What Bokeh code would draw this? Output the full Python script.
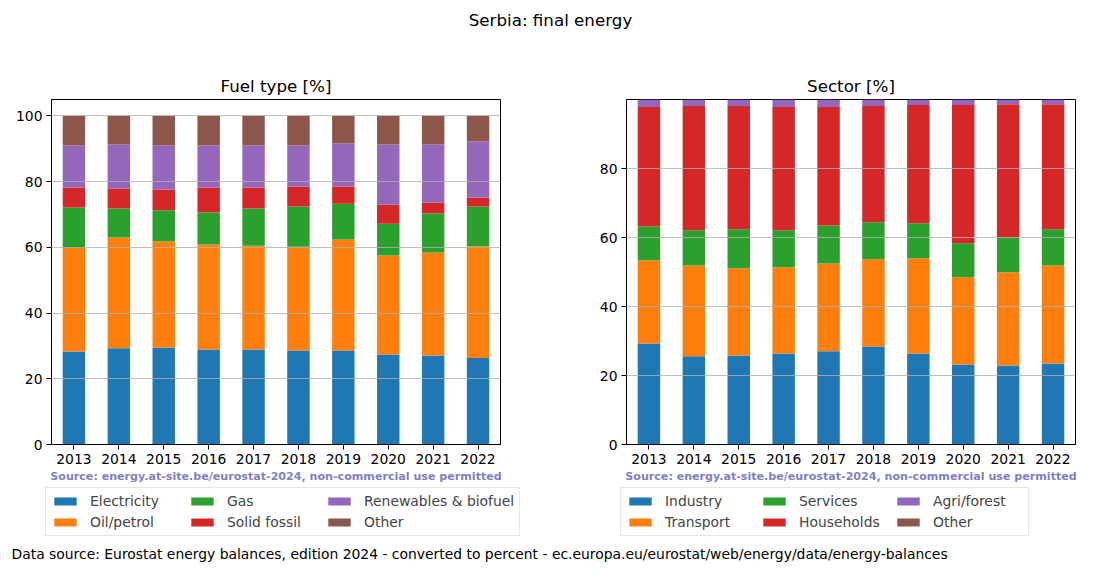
from bokeh.plotting import figure
from bokeh.models import ColumnDataSource, Range1d, FactorRange, FixedTicker, Title, Label
from bokeh.layouts import column, row
from bokeh.embed import file_html
from bokeh.resources import INLINE

years = ["2013", "2014", "2015", "2016", "2017", "2018", "2019", "2020", "2021", "2022"]

fuel_labels = ["Electricity", "Oil/petrol", "Gas", "Solid fossil", "Renewables & biofuel", "Other"]
electricity = [28.3, 29.3, 29.5, 28.9, 28.9, 28.6, 28.6, 27.4, 27.1, 26.3]
oil_petrol = [31.6, 33.7, 32.3, 32.0, 31.6, 31.6, 33.8, 30.1, 31.3, 34.0]
gas = [12.2, 8.8, 9.5, 9.7, 11.3, 12.2, 10.9, 9.7, 11.9, 12.1]
solid_fossil = [6.1, 6.1, 6.3, 7.6, 6.4, 6.1, 5.2, 5.8, 3.3, 2.8]
renewables = [12.8, 13.4, 13.4, 12.8, 12.8, 12.5, 13.1, 18.3, 17.7, 17.0]
fuel_other = [9.0, 8.7, 9.0, 9.0, 9.0, 9.0, 8.4, 8.7, 8.7, 7.8]

sector_labels = ["Industry", "Transport", "Services", "Households", "Agri/forest", "Other"]
industry = [29.3, 25.6, 25.8, 26.4, 27.0, 28.4, 26.4, 23.2, 22.9, 23.5]
transport = [24.1, 26.3, 25.3, 25.0, 25.5, 25.3, 27.6, 25.3, 27.0, 28.4]
services = [9.8, 10.2, 11.3, 10.7, 11.0, 10.7, 10.1, 9.8, 10.2, 10.5]
households = [34.6, 36.0, 35.7, 35.7, 34.3, 33.7, 34.3, 40.1, 38.5, 36.2]
agri_forest = [2.2, 1.9, 1.9, 2.2, 2.2, 1.9, 1.6, 1.6, 1.4, 1.4]
sector_other = [0.0, 0.0, 0.0, 0.0, 0.0, 0.0, 0.0, 0.0, 0.0, 0.0]

fuel_ticks = [0, 20, 40, 60, 80, 100]
sector_ticks = [0, 20, 40, 60, 80]

colors = ["#1f77b4", "#ff7f0e", "#2ca02c", "#d62728", "#9467bd", "#8c564b"]
FONT = "DejaVu Sans"
source_text = "Source: energy.at-site.be/eurostat-2024, non-commercial use permitted"


def make_source(series):
    keys = ["s%d" % i for i in range(len(series))]
    data = {"year": years}
    for k, s in zip(keys, series):
        data[k] = s
    return keys, ColumnDataSource(data)


def make_chart(title, keys, src, y_end, ticks, width, bl, br):
    p = figure(x_range=FactorRange(*years, range_padding=0), y_range=Range1d(0, y_end),
               width=width, height=447, output_backend="svg", toolbar_location=None,
               min_border_left=bl, min_border_right=br, min_border_top=59, min_border_bottom=43)
    p.vbar_stack(keys, x="year", width=0.5, color=colors, line_color=None, source=src)
    p.title.text = title
    p.title.align = "center"
    p.title.text_font = FONT
    p.title.text_font_size = "16.7px"
    p.title.text_font_style = "normal"
    p.title.text_color = "black"
    p.title.standoff = 8
    p.outline_line_color = "black"
    p.outline_line_width = 1
    p.xgrid.grid_line_color = None
    p.ygrid.grid_line_color = "#b0b0b0"
    p.ygrid.grid_line_width = 0.8
    p.ygrid.level = "overlay"
    p.yaxis.ticker = FixedTicker(ticks=ticks)
    for ax in [p.xaxis[0], p.yaxis[0]]:
        ax.axis_line_color = "black"
        ax.major_tick_line_color = "black"
        ax.major_tick_out = 5
        ax.major_tick_in = 0
        ax.minor_tick_line_color = None
        ax.major_label_text_font = FONT
        ax.major_label_text_font_size = "13.9px"
        ax.major_label_text_color = "black"
        ax.major_label_standoff = 4
    st = Title(text=source_text, align="center", text_font=FONT, text_font_size="11.1px",
               text_font_style="bold", text_color="#7f7fc7", standoff=2)
    p.add_layout(st, "below")
    return p


def make_legend(labels, keys, src, width, lx, label_w):
    # legend strip: same stacked bars, but the visible y-window lies above all data,
    # so only the legend shows
    f = figure(x_range=FactorRange(*years, range_padding=0), y_range=Range1d(200, 253),
               width=width, height=53, output_backend="svg", toolbar_location=None,
               min_border=0, x_axis_location=None, y_axis_location=None,
               outline_line_color=None)
    f.grid.grid_line_color = None
    f.vbar_stack(keys, x="year", width=0.5, color=colors, line_color=None, source=src,
                 legend_label=labels)
    lg = f.legend[0]
    lg.location = (lx, 4)
    lg.orientation = "vertical"
    lg.nrows = 2
    lg.label_text_font = FONT
    lg.label_text_font_size = "13.9px"
    lg.glyph_width = 28
    lg.glyph_height = 10
    lg.label_standoff = 11
    lg.label_height = 14
    lg.label_width = label_w
    lg.padding = 5
    lg.spacing = 5
    lg.margin = 0
    lg.border_line_color = "#cccccc"
    lg.background_fill_alpha = 0.8
    return f


fuel_keys, fuel_src = make_source([electricity, oil_petrol, gas, solid_fossil, renewables, fuel_other])
sector_keys, sector_src = make_source([industry, transport, services, households, agri_forest, sector_other])

p1 = make_chart("Fuel type [%]", fuel_keys, fuel_src, 105, fuel_ticks, 578, 51, 78)
p2 = make_chart("Sector [%]", sector_keys, sector_src, 100, sector_ticks, 514, 48, 17)
l1 = make_legend(fuel_labels, fuel_keys, fuel_src, 578, 45, 93)
l2 = make_legend(sector_labels, sector_keys, sector_src, 514, 42, 90)


def text_strip(h, txt, x, y, align, size):
    f = figure(x_range=Range1d(0, 1092), y_range=Range1d(0, h), width=1092, height=h,
               output_backend="svg", toolbar_location=None, min_border=0,
               x_axis_location=None, y_axis_location=None, outline_line_color=None)
    f.grid.grid_line_color = None
    f.add_layout(Label(x=x, y=y, text=txt, text_align=align, text_baseline="middle",
                       text_font=FONT, text_font_size=size, text_color="black"))
    return f


header = text_strip(40, "Serbia: final energy", 550, 21, "center", "16.7px")
footer = text_strip(24, "Data source: Eurostat energy balances, edition 2024 - converted to percent - ec.europa.eu/eurostat/web/energy/data/energy-balances", 11, 11, "left", "13.9px")

layout = column(header, row(p1, p2), row(l1, l2), footer)
open("out.html", "w").write(file_html(layout, INLINE))
